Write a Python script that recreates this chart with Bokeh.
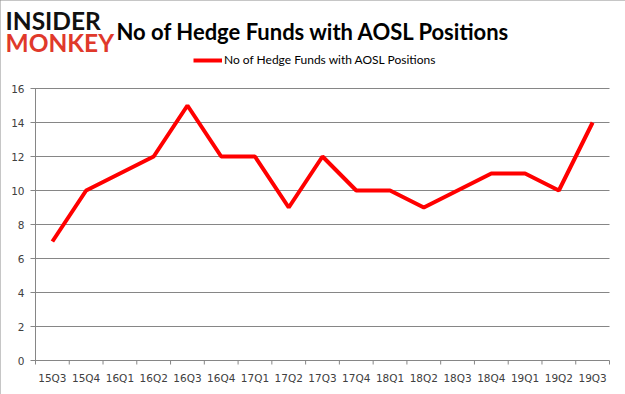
from bokeh.plotting import figure
from bokeh.models import (Range1d, Label, Legend, LegendItem, ColumnDataSource)
from bokeh.embed import file_html
from bokeh.resources import INLINE

quarters = ["15Q3", "15Q4", "16Q1", "16Q2", "16Q3", "16Q4", "17Q1", "17Q2", "17Q3",
            "17Q4", "18Q1", "18Q2", "18Q3", "18Q4", "19Q1", "19Q2", "19Q3"]
funds = [7, 10, 11, 12, 15, 12, 12, 9, 12, 10, 10, 9, 10, 11, 11, 10, 14]
y_ticks = [0, 2, 4, 6, 8, 10, 12, 14, 16]
y_tick_labels = ["0", "2", "4", "6", "8", "10", "12", "14", "16"]
series_name = "No of Hedge Funds with AOSL Positions"
title_text = "No of Hedge Funds with AOSL Positions"

RED = "#ff0000"
GRAY = "#868686"
LABEL_GRAY = "#404040"
FONT = {"value": "DejaVu Sans"}

# ---- layout in canvas pixels ----
W, H = 625, 394
PLOT_L, PLOT_R = 35, 609      # plot area left / right
PLOT_T, PLOT_B = 88, 360      # plot area top / bottom
n = len(quarters)
y_lo, y_hi = y_ticks[0], y_ticks[-1]
pxu_x = (PLOT_R - PLOT_L) / n
pxu_y = (PLOT_B - PLOT_T) / (y_hi - y_lo)

p = figure(width=W, height=H, output_backend="svg", toolbar_location=None,
           x_range=Range1d(-PLOT_L / pxu_x, n + (W - PLOT_R) / pxu_x),
           y_range=Range1d(y_lo - (H - PLOT_B) / pxu_y, y_hi + PLOT_T / pxu_y),
           x_axis_location=None, y_axis_location=None,
           min_border_left=0, min_border_right=0, min_border_top=0, min_border_bottom=0,
           styles={"outline": "1px solid #8c8c8c", "outline-offset": "-1px"})
p.outline_line_color = None
p.background_fill_color = "white"
p.border_fill_color = "white"
p.grid.visible = False

# ---- y axis: gridlines + outward ticks, axis line, labels ----
p.segment(x0=-5 / pxu_x, x1=n, y0=y_ticks, y1=y_ticks, line_color=GRAY, line_width=1)
p.segment(x0=0, x1=0, y0=y_lo, y1=y_hi, line_color=GRAY, line_width=1)
p.text(x=0, y=y_ticks, text=y_tick_labels, x_offset=-11, text_align="right",
       text_baseline="middle", text_font_size="10.5px", text_color=LABEL_GRAY,
       text_font=FONT)

# ---- x axis: line, boundary ticks, category labels ----
bounds = list(range(n + 1))
centers = [i + 0.5 for i in range(n)]
p.segment(x0=bounds, x1=bounds, y0=y_lo, y1=y_lo - 4 / pxu_y, line_color=GRAY, line_width=1)
p.text(x=centers, y=y_lo, text=quarters, y_offset=17, text_align="center",
       text_baseline="middle", text_font_size="10.5px", text_color=LABEL_GRAY,
       text_font=FONT)

# ---- data ----
src = ColumnDataSource(dict(x=centers, y=funds, q=quarters))
r = p.line("x", "y", source=src, line_color=RED, line_width=4)


# ---- header: logo, title, legend ----
def lab(cx, cy, text, **kw):
    p.add_layout(Label(x=cx, y=H - cy, x_units="screen", y_units="screen", text=text,
                       text_baseline="alphabetic", **kw))


lab(5, 20, "INSIDER", text_font="Lato", text_font_style="bold", text_font_size="24.5px",
    text_color="#111111")
lab(5, 42, "MONKEY", text_font="Lato", text_font_style="bold", text_font_size="24.5px",
    text_color="#e0392b")
lab(116, 31, title_text, text_font="Lato", text_font_style="bold", text_font_size="22px",
    text_color="#000000")

legend = Legend(items=[LegendItem(label=series_name, renderers=[r])],
                location=(193, H - 61 - 6), orientation="horizontal",
                padding=0, margin=0, border_line_color=None, background_fill_alpha=0,
                glyph_width=29, glyph_height=12, label_height=12, label_standoff=2,
                label_text_font="Lato", label_text_font_size="12px",
                label_text_color="#000000")
p.add_layout(legend)

open("out.html", "w").write(file_html(p, INLINE))
